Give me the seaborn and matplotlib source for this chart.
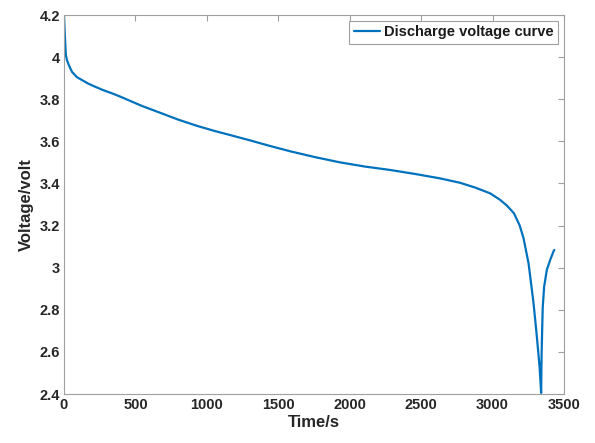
import matplotlib
matplotlib.use("Agg")
import matplotlib.pyplot as plt
import seaborn as sns
import pandas as pd

time_s = [0, 6, 13, 21, 35, 56, 90, 126, 170, 219, 275, 336, 395, 453, 546, 695, 800,
          929, 1050, 1162, 1300, 1442, 1582, 1757, 1933, 2108, 2283, 2458, 2633,
          2773, 2880, 2983, 3053, 3100, 3150, 3190, 3217, 3252, 3287, 3310, 3329, 3340,
          3343, 3347, 3351, 3361, 3380, 3403, 3427, 3432]
voltage = [4.20, 4.10, 4.01, 3.985, 3.96, 3.93, 3.905, 3.891, 3.874, 3.859, 3.843, 3.828,
           3.812, 3.795, 3.768, 3.73, 3.703, 3.674, 3.65, 3.63, 3.605, 3.578, 3.553,
           3.525, 3.50, 3.48, 3.464, 3.445, 3.424, 3.403, 3.38, 3.353, 3.322, 3.295,
           3.258, 3.20, 3.139, 3.02, 2.83, 2.672, 2.53, 2.405, 2.58, 2.70, 2.81, 2.91,
           2.99, 3.036, 3.078, 3.084]
series_name = "Discharge voltage curve"
x_ticks = [0, 500, 1000, 1500, 2000, 2500, 3000, 3500]
y_ticks = [2.4, 2.6, 2.8, 3.0, 3.2, 3.4, 3.6, 3.8, 4.0, 4.2]
y_tick_labels = ["2.4", "2.6", "2.8", "3", "3.2", "3.4", "3.6", "3.8", "4", "4.2"]

df = pd.DataFrame({"Time/s": time_s, "Voltage/volt": voltage, "series": series_name})

sns.set_style("white")
plt.rcParams["font.family"] = ["Liberation Sans", "DejaVu Sans"]

fig = plt.figure(figsize=(5.95, 4.43), dpi=100)
ax = fig.add_axes([64/595, 1 - 394/443, 500/595, 379/443])

sns.lineplot(data=df, x="Time/s", y="Voltage/volt", hue="series",
             palette=["#0072BD"], linewidth=1.6, ax=ax, sort=False)
for ln in ax.get_lines():
    ln.set_solid_joinstyle("round")

ax.set_xlim(0, 3500)
ax.set_ylim(2.4, 4.2)
ax.set_xticks(x_ticks)
ax.set_xticklabels([str(t) for t in x_ticks])
ax.set_yticks(y_ticks)
ax.set_yticklabels(y_tick_labels)

spine_col = "#a0a0a0"
for s in ax.spines.values():
    s.set_visible(True)
    s.set_color(spine_col)
    s.set_linewidth(0.8)
ax.tick_params(direction="in", length=4, width=0.8, color=spine_col,
               top=True, right=True, labelsize=10.5, labelcolor="#262626", pad=3)
for lbl in ax.get_xticklabels() + ax.get_yticklabels():
    lbl.set_fontweight("bold")

ax.set_xlabel("Time/s", fontsize=12, fontweight="bold", color="#262626", labelpad=2)
ax.set_ylabel("Voltage/volt", fontsize=12, fontweight="bold", color="#262626", labelpad=4)

leg = ax.legend(loc="upper right", fontsize=10.5, frameon=True, fancybox=False,
                edgecolor="#a0a0a0", handlelength=1.8, handletextpad=0.3,
                borderaxespad=0.4, borderpad=0.3, framealpha=1)
for t in leg.get_texts():
    t.set_fontweight("bold")
    t.set_color("#1a1a1a")
leg.get_frame().set_linewidth(0.8)

fig.savefig("out.png", dpi=100)
